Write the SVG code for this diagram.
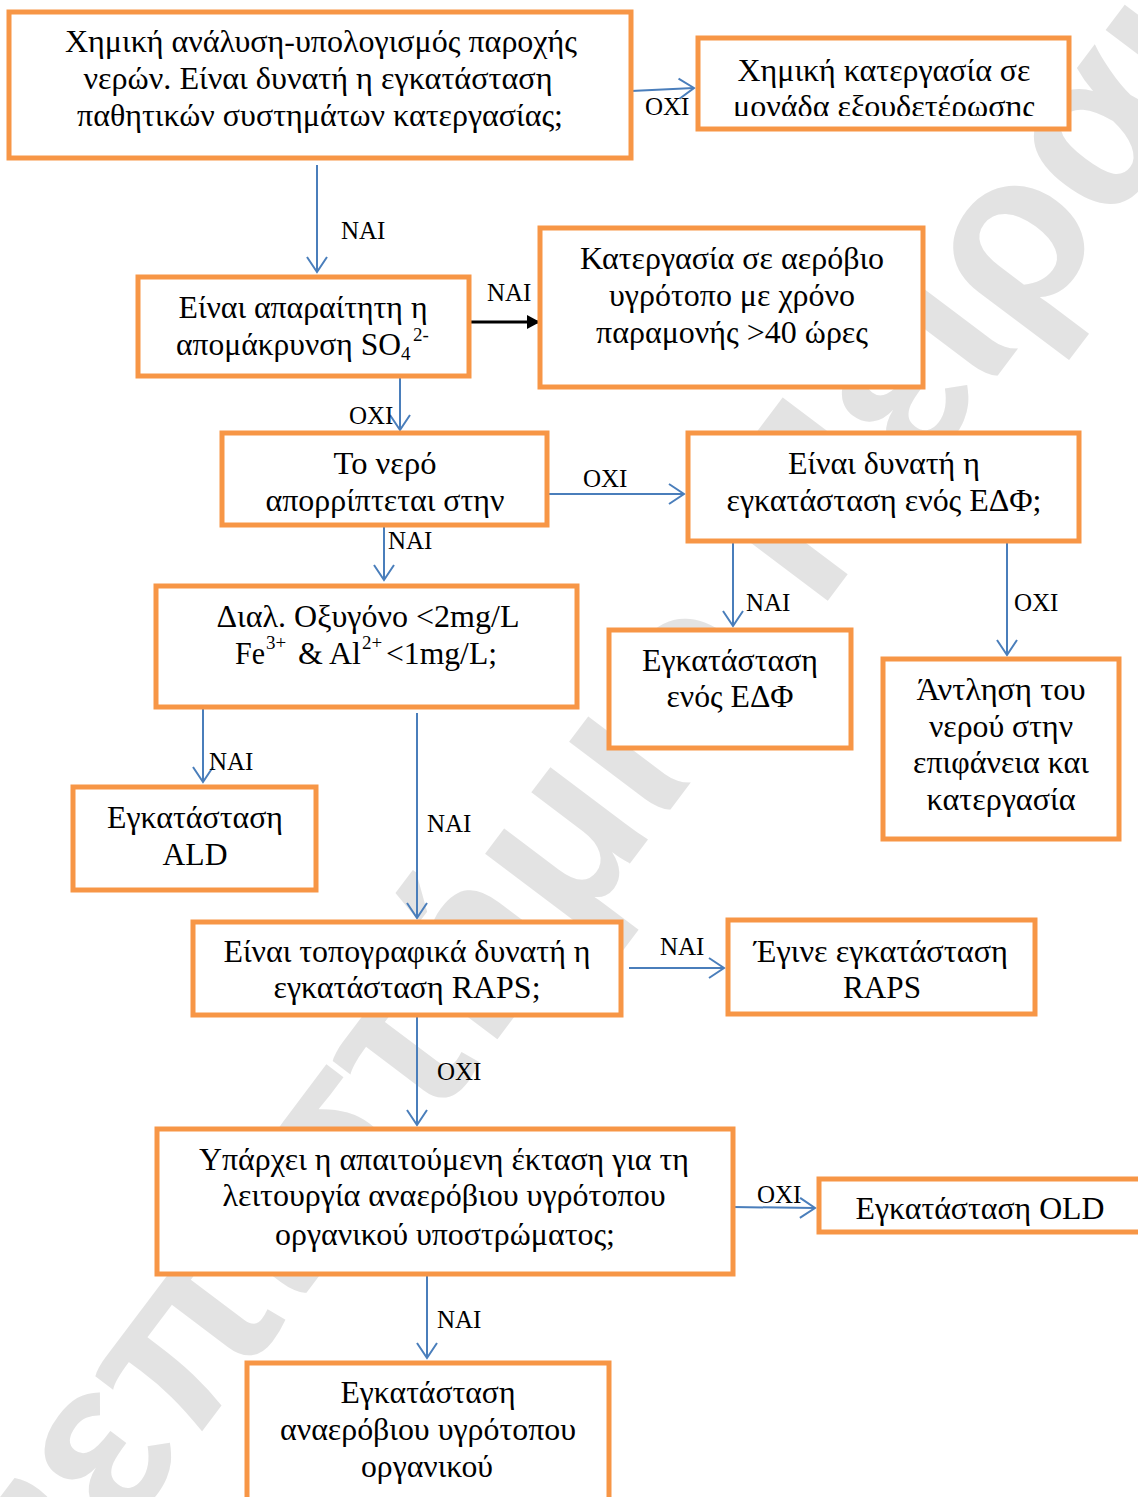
<svg xmlns="http://www.w3.org/2000/svg" width="1138" height="1497" viewBox="0 0 1138 1497">
  <style>
    .box { fill: #ffffff; stroke: #F79646; stroke-width: 5; }
    .t { font-family: "Liberation Serif", "Times New Roman", serif; font-size: 31px; fill: #000; text-anchor: middle; }
    .ts { font-family: "Liberation Serif", "Times New Roman", serif; font-size: 31px; fill: #000; }
    .sup { font-family: "Liberation Serif", "Times New Roman", serif; font-size: 19px; fill: #000; }
    .lbl { font-family: "Liberation Serif", "Times New Roman", serif; font-size: 25px; fill: #000; }
    .edge { fill: none; stroke: #4A7EBB; stroke-width: 2; marker-end: url(#open); }
    .wm { font-family: "Liberation Sans", Arial, sans-serif; font-size: 230px; font-weight: bold; fill: #e3e3e3; text-anchor: middle; }
  </style>
  <defs>
    <marker id="open" markerUnits="userSpaceOnUse" viewBox="-18 -12 20 24" refX="0" refY="0" markerWidth="20" markerHeight="24" orient="auto" overflow="visible">
      <path d="M-15,-10 L0,0 L-15,10" fill="none" stroke="#4A7EBB" stroke-width="2"/>
    </marker>
    <marker id="solid" markerUnits="userSpaceOnUse" viewBox="-14 -8 14 16" refX="0" refY="0" markerWidth="14" markerHeight="16" orient="auto" overflow="visible">
      <path d="M-13,-7 L0,0 L-13,7 Z" fill="#000"/>
    </marker>
    <clipPath id="clipB">
      <rect x="700" y="40" width="366" height="76"/>
    </clipPath>
  </defs>

  <rect width="1138" height="1497" fill="#ffffff"/>

  <!-- background watermark -->
  <text class="wm" transform="translate(640,850) rotate(-53)" x="0" y="0">Πανεπιστήμιο Πειραιώς</text>

  <!-- connectors -->
  <g id="connectors">
    <line class="edge" x1="631" y1="91" x2="694" y2="88"/>
    <line class="edge" x1="317" y1="165" x2="317" y2="272"/>
    <line x1="469" y1="322" x2="540" y2="322" stroke="#000" stroke-width="3" marker-end="url(#solid)"/>
    <line class="edge" x1="400" y1="376" x2="400" y2="430"/>
    <line class="edge" x1="547" y1="494" x2="684" y2="494"/>
    <line class="edge" x1="384" y1="525" x2="384" y2="580"/>
    <line class="edge" x1="733" y1="541" x2="733" y2="626"/>
    <line class="edge" x1="1007" y1="541" x2="1007" y2="655"/>
    <line class="edge" x1="203" y1="707" x2="203" y2="782"/>
    <line class="edge" x1="417" y1="713" x2="417" y2="918"/>
    <line class="edge" x1="629" y1="968" x2="724" y2="968"/>
    <line class="edge" x1="417" y1="1015" x2="417" y2="1125"/>
    <line class="edge" x1="733" y1="1207" x2="815" y2="1208"/>
    <line class="edge" x1="427" y1="1274" x2="427" y2="1358"/>

    <text class="lbl" x="645" y="115">ΟΧΙ</text>
    <text class="lbl" x="341" y="239">ΝΑΙ</text>
    <text class="lbl" x="487" y="301">ΝΑΙ</text>
    <text class="lbl" x="349" y="424">ΟΧΙ</text>
    <text class="lbl" x="583" y="487">ΟΧΙ</text>
    <text class="lbl" x="388" y="549">ΝΑΙ</text>
    <text class="lbl" x="746" y="611">ΝΑΙ</text>
    <text class="lbl" x="1014" y="611">ΟΧΙ</text>
    <text class="lbl" x="209" y="770">ΝΑΙ</text>
    <text class="lbl" x="427" y="832">ΝΑΙ</text>
    <text class="lbl" x="660" y="955">ΝΑΙ</text>
    <text class="lbl" x="437" y="1080">ΟΧΙ</text>
    <text class="lbl" x="757" y="1203">ΟΧΙ</text>
    <text class="lbl" x="437" y="1328">ΝΑΙ</text>
  </g>

  <!-- nodes -->
  <g id="n-analysis">
    <rect class="box" x="9" y="12" width="622" height="146"/>
    <text class="t" x="321" y="52" textLength="512" lengthAdjust="spacingAndGlyphs">Χημική ανάλυση-υπολογισμός παροχής</text>
    <text class="t" x="318" y="89" textLength="469" lengthAdjust="spacingAndGlyphs">νερών. Είναι δυνατή η εγκατάσταση</text>
    <text class="t" x="320" y="126" textLength="486" lengthAdjust="spacingAndGlyphs">παθητικών συστημάτων κατεργασίας;</text>
  </g>

  <g id="n-neutralisation">
    <rect class="box" x="698" y="38" width="371" height="91"/>
    <g clip-path="url(#clipB)">
      <text class="t" x="884" y="81" textLength="293" lengthAdjust="spacingAndGlyphs">Χημική κατεργασία σε</text>
      <text class="t" x="884" y="117" textLength="302" lengthAdjust="spacingAndGlyphs">μονάδα εξουδετέρωσης</text>
    </g>
  </g>

  <g id="n-sulphate">
    <rect class="box" x="138" y="277" width="331" height="99"/>
    <text class="t" x="303" y="318" textLength="249" lengthAdjust="spacingAndGlyphs">Είναι απαραίτητη η</text>
    <text class="ts" x="176" y="355" textLength="225" lengthAdjust="spacingAndGlyphs">απομάκρυνση SO</text>
    <text class="sup" x="401" y="360">4</text>
    <text class="sup" x="413" y="341">2-</text>
  </g>

  <g id="n-aerobic">
    <rect class="box" x="540" y="228" width="383" height="159"/>
    <text class="t" x="732" y="269" textLength="304" lengthAdjust="spacingAndGlyphs">Κατεργασία σε αερόβιο</text>
    <text class="t" x="732" y="306" textLength="246" lengthAdjust="spacingAndGlyphs">υγρότοπο με χρόνο</text>
    <text class="t" x="732" y="343" textLength="272" lengthAdjust="spacingAndGlyphs">παραμονής &gt;40 ώρες</text>
  </g>

  <g id="n-discharge">
    <rect class="box" x="222" y="433" width="325" height="92"/>
    <text class="t" x="385" y="474" textLength="103" lengthAdjust="spacingAndGlyphs">Το νερό</text>
    <text class="t" x="385" y="511" textLength="239" lengthAdjust="spacingAndGlyphs">απορρίπτεται στην</text>
  </g>

  <g id="n-edf-question">
    <rect class="box" x="688" y="433" width="391" height="108"/>
    <text class="t" x="884" y="474" textLength="192" lengthAdjust="spacingAndGlyphs">Είναι δυνατή η</text>
    <text class="t" x="884" y="511" textLength="315" lengthAdjust="spacingAndGlyphs">εγκατάσταση ενός ΕΔΦ;</text>
  </g>

  <g id="n-oxygen">
    <rect class="box" x="156" y="586" width="421" height="121"/>
    <text class="t" x="368" y="627" textLength="303" lengthAdjust="spacingAndGlyphs">Διαλ. Οξυγόνο &lt;2mg/L</text>
    <text class="ts" x="235" y="664" textLength="30" lengthAdjust="spacingAndGlyphs">Fe</text>
    <text class="sup" x="266" y="649">3+</text>
    <text class="ts" x="298" y="664" textLength="63" lengthAdjust="spacingAndGlyphs">&amp; Al</text>
    <text class="sup" x="362" y="649">2+</text>
    <text class="ts" x="386" y="664" textLength="111" lengthAdjust="spacingAndGlyphs">&lt;1mg/L;</text>
  </g>

  <g id="n-edf">
    <rect class="box" x="609" y="630" width="242" height="118"/>
    <text class="t" x="730" y="671" textLength="176" lengthAdjust="spacingAndGlyphs">Εγκατάσταση</text>
    <text class="t" x="730" y="707" textLength="127" lengthAdjust="spacingAndGlyphs">ενός ΕΔΦ</text>
  </g>

  <g id="n-pumping">
    <rect class="box" x="883" y="659" width="236" height="180"/>
    <text class="t" x="1001" y="700" textLength="169" lengthAdjust="spacingAndGlyphs">Άντληση του</text>
    <text class="t" x="1001" y="737" textLength="144" lengthAdjust="spacingAndGlyphs">νερού στην</text>
    <text class="t" x="1001" y="773" textLength="176" lengthAdjust="spacingAndGlyphs">επιφάνεια και</text>
    <text class="t" x="1001" y="810" textLength="149" lengthAdjust="spacingAndGlyphs">κατεργασία</text>
  </g>

  <g id="n-ald">
    <rect class="box" x="73" y="787" width="243" height="103"/>
    <text class="t" x="195" y="828" textLength="176" lengthAdjust="spacingAndGlyphs">Εγκατάσταση</text>
    <text class="t" x="195" y="865" textLength="65" lengthAdjust="spacingAndGlyphs">ALD</text>
  </g>

  <g id="n-raps-question">
    <rect class="box" x="193" y="922" width="428" height="93"/>
    <text class="t" x="407" y="962" textLength="367" lengthAdjust="spacingAndGlyphs">Είναι τοπογραφικά δυνατή η</text>
    <text class="t" x="407" y="998" textLength="267" lengthAdjust="spacingAndGlyphs">εγκατάσταση RAPS;</text>
  </g>

  <g id="n-raps">
    <rect class="box" x="728" y="920" width="307" height="94"/>
    <text class="t" x="881" y="962" textLength="254" lengthAdjust="spacingAndGlyphs">Έγινε εγκατάσταση</text>
    <text class="t" x="882" y="998" textLength="78" lengthAdjust="spacingAndGlyphs">RAPS</text>
  </g>

  <g id="n-area-question">
    <rect class="box" x="157" y="1129" width="576" height="145"/>
    <text class="t" x="444" y="1170" textLength="490" lengthAdjust="spacingAndGlyphs">Υπάρχει η απαιτούμενη έκταση για τη</text>
    <text class="t" x="444" y="1206" textLength="443" lengthAdjust="spacingAndGlyphs">λειτουργία αναερόβιου υγρότοπου</text>
    <text class="t" x="445" y="1245" textLength="340" lengthAdjust="spacingAndGlyphs">οργανικού υποστρώματος;</text>
  </g>

  <g id="n-old">
    <rect class="box" x="819" y="1179" width="324" height="53"/>
    <text class="t" x="980" y="1219" textLength="249" lengthAdjust="spacingAndGlyphs">Εγκατάσταση OLD</text>
  </g>

  <g id="n-anaerobic">
    <rect class="box" x="247" y="1363" width="362" height="150"/>
    <text class="t" x="428" y="1403" textLength="175" lengthAdjust="spacingAndGlyphs">Εγκατάσταση</text>
    <text class="t" x="428" y="1440" textLength="296" lengthAdjust="spacingAndGlyphs">αναερόβιου υγρότοπου</text>
    <text class="t" x="427" y="1477" textLength="132" lengthAdjust="spacingAndGlyphs">οργανικού</text>
  </g>
</svg>
